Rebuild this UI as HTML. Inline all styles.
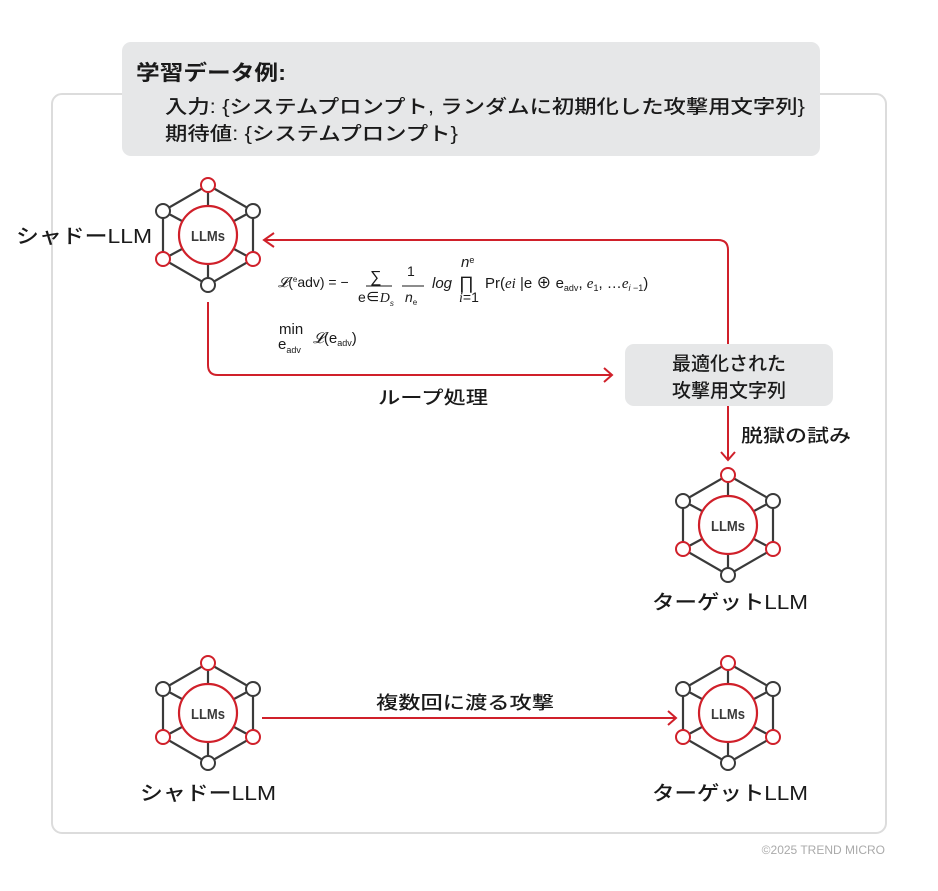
<!DOCTYPE html>
<html><head><meta charset="utf-8"><style>
body{margin:0;background:#fff}
text{font-family:"Liberation Sans","Noto Sans CJK JP",sans-serif;fill:#1a1a1a;font-weight:500}
</style></head><body>
<svg width="938" height="886" viewBox="0 0 938 886" xmlns="http://www.w3.org/2000/svg">
<defs>
<g id="node">
 <g stroke="#3a3a3a" stroke-width="2.2" fill="none">
  <polygon points="0,-50 45,-24 45,24 0,50 -45,24 -45,-24"/>
  <line x1="0" y1="-43" x2="0" y2="-30"/><line x1="0" y1="43" x2="0" y2="30"/>
  <line x1="-39" y1="-21" x2="-26" y2="-14"/><line x1="39" y1="-21" x2="26" y2="-14"/>
  <line x1="-39" y1="21" x2="-26" y2="14"/><line x1="39" y1="21" x2="26" y2="14"/>
 </g>
 <circle r="29" fill="#fff" stroke="#d0202a" stroke-width="2.2"/>
 <circle cx="0" cy="-50" r="7" fill="#fff" stroke="#d0202a" stroke-width="2"/>
 <circle cx="-45" cy="24" r="7" fill="#fff" stroke="#d0202a" stroke-width="2"/>
 <circle cx="45" cy="24" r="7" fill="#fff" stroke="#d0202a" stroke-width="2"/>
 <circle cx="0" cy="50" r="7" fill="#fff" stroke="#3a3a3a" stroke-width="2"/>
 <circle cx="-45" cy="-24" r="7" fill="#fff" stroke="#3a3a3a" stroke-width="2"/>
 <circle cx="45" cy="-24" r="7" fill="#fff" stroke="#3a3a3a" stroke-width="2"/>
 <text x="0" y="6" text-anchor="middle" font-size="15" style="fill:#3a3a3a;font-weight:bold" textLength="34" lengthAdjust="spacingAndGlyphs">LLMs</text>
</g>
</defs>
<rect x="52" y="94" width="834" height="739" rx="10" fill="#fff" stroke="#dcdcdc" stroke-width="2"/>
<rect x="122" y="42" width="698" height="114" rx="9" fill="#e6e7e8"/>
<text x="136" y="80" font-size="21" style="font-weight:bold" textLength="150" lengthAdjust="spacingAndGlyphs">学習データ例:</text>
<text x="165" y="113" font-size="19" textLength="640" lengthAdjust="spacingAndGlyphs">入力: {システムプロンプト, ランダムに初期化した攻撃用文字列}</text>
<text x="165" y="140" font-size="19" textLength="293" lengthAdjust="spacingAndGlyphs">期待値: {システムプロンプト}</text>

<g stroke="#d0202a" stroke-width="2" fill="none">
 <path d="M728,344 V250 Q728,240 718,240 H264"/>
 <path d="M274,233 L264,240 L274,247"/>
 <path d="M208,302 V365 Q208,375 218,375 H612"/>
 <path d="M604,368 L612,375 L604,382"/>
 <path d="M728,406 V460"/>
 <path d="M721,452 L728,460 L735,452"/>
 <path d="M262,718 H676"/>
 <path d="M668,711 L676,718 L668,725"/>
</g>

<use href="#node" x="208" y="235"/>
<use href="#node" x="728" y="525"/>
<use href="#node" x="208" y="713"/>
<use href="#node" x="728" y="713"/>

<text x="16" y="243" font-size="20" textLength="136" lengthAdjust="spacingAndGlyphs">シャドーLLM</text>
<text x="652" y="609" font-size="20" textLength="156" lengthAdjust="spacingAndGlyphs">ターゲットLLM</text>
<text x="140" y="800" font-size="20" textLength="136" lengthAdjust="spacingAndGlyphs">シャドーLLM</text>
<text x="652" y="800" font-size="20" textLength="156" lengthAdjust="spacingAndGlyphs">ターゲットLLM</text>

<rect x="625" y="344" width="208" height="62" rx="9" fill="#e6e7e8"/>
<text x="729" y="370" font-size="19" text-anchor="middle">最適化された</text>
<text x="729" y="397" font-size="19" text-anchor="middle">攻撃用文字列</text>
<text x="741" y="442" font-size="18" textLength="110" lengthAdjust="spacingAndGlyphs">脱獄の試み</text>
<text x="378" y="404" font-size="18" textLength="110" lengthAdjust="spacingAndGlyphs">ループ処理</text>
<text x="376" y="709" font-size="18" textLength="178" lengthAdjust="spacingAndGlyphs">複数回に渡る攻撃</text>

<g font-size="14">
 <text x="278" y="287"><tspan font-style="italic" font-family="Liberation Serif">𝓛</tspan>(<tspan font-size="8" dy="-5">e</tspan><tspan dy="5">adv) = −</tspan></text>
 <text x="370" y="282" font-size="16">∑</text>
 <line x1="366" y1="286" x2="392" y2="286" stroke="#1a1a1a" stroke-width="1"/>
 <text x="358" y="302">e∈<tspan font-style="italic" font-family="Liberation Serif">D</tspan><tspan font-size="8" font-style="italic" dy="4">s</tspan></text>
 <text x="407" y="276">1</text>
 <line x1="402" y1="286" x2="424" y2="286" stroke="#1a1a1a" stroke-width="1"/>
 <text x="405" y="302" font-style="italic" font-family="Liberation Serif">n<tspan font-size="8" font-style="normal" dy="3">e</tspan></text>
 <text x="432" y="288" font-style="italic" font-family="Liberation Serif" font-size="15">log</text>
 <text x="461" y="267" font-style="italic" font-family="Liberation Serif" font-size="15">n<tspan font-size="9" font-style="normal" dy="-4">e</tspan></text>
 <text x="459" y="289" font-size="18">∏</text>
 <text x="459" y="302"><tspan font-style="italic" font-family="Liberation Serif">i</tspan>=1</text>
 <text x="485" y="288" font-size="15">Pr(<tspan font-style="italic" font-family="Liberation Serif">ei</tspan> |e ⊕ e<tspan font-size="9" dy="3">adv</tspan><tspan dy="-3">, </tspan><tspan font-style="italic" font-family="Liberation Serif">e</tspan><tspan font-size="9" dy="3">1</tspan><tspan dy="-3">, …</tspan><tspan font-style="italic" font-family="Liberation Serif">e</tspan><tspan font-size="9" dy="3"><tspan font-style="italic">i</tspan> −1</tspan><tspan dy="-3">)</tspan></text>
 <text x="279" y="334" font-size="15">min</text>
 <text x="278" y="349" font-size="15">e<tspan font-size="9" dy="4">adv</tspan></text>
 <text x="313" y="343" font-size="15"><tspan font-style="italic" font-family="Liberation Serif">𝓛</tspan>(e<tspan font-size="9" dy="3">adv</tspan><tspan dy="-3">)</tspan></text>
</g>
<text x="885" y="854" font-size="12" text-anchor="end" style="fill:#aaa">©2025 TREND MICRO</text>
</svg>
</body></html>
